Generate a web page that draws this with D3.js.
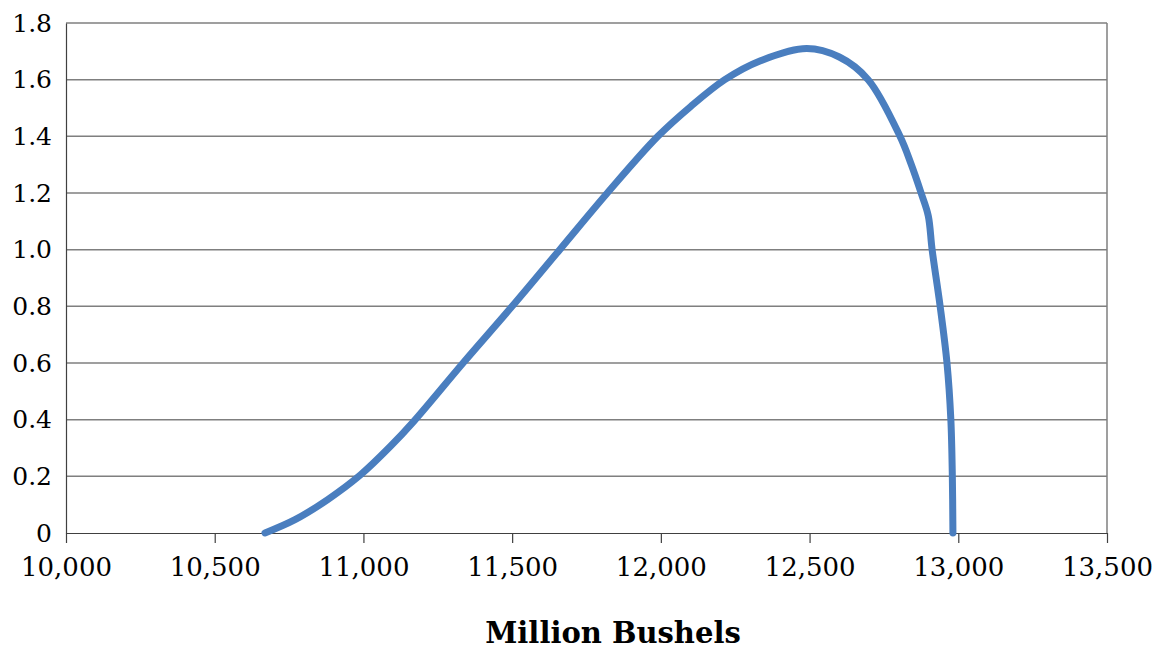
<!DOCTYPE html>
<html>
<head>
<meta charset="utf-8">
<script src="https://cdn.jsdelivr.net/npm/d3@7"></script>
<style>
  html, body { margin: 0; padding: 0; background: #fff; }
  svg { display: block; }
</style>
</head>
<body>
<svg id="chart" width="1166" height="650"></svg>
<script>
// Data
const bushels = [10669, 10770, 10880, 10990, 11090, 11170, 11335, 11500, 11660, 11820, 11990, 12100, 12215, 12333, 12490, 12600, 12697, 12804, 12841, 12875, 12899, 12912, 12939, 12962, 12975, 12980, 12982];
const values  = [0,     0.047, 0.118, 0.205, 0.305, 0.395, 0.6,   0.8,   1.0,   1.2,   1.4,   1.505, 1.6,   1.666, 1.71,  1.68,  1.6,   1.4,   1.303, 1.2,   1.12,  1.0,   0.8,   0.6,   0.4,   0.2,   0];
const xTicks = [10000, 10500, 11000, 11500, 12000, 12500, 13000, 13500];
const yTicks = [0, 0.2, 0.4, 0.6, 0.8, 1.0, 1.2, 1.4, 1.6, 1.8];
const yTickLabels = ["0", "0.2", "0.4", "0.6", "0.8", "1.0", "1.2", "1.4", "1.6", "1.8"];
const xTitle = "Million Bushels";

const svg = d3.select("#chart");
const mLeft = 66, mRight = 1107, mTop = 23, mBottom = 533;

const x = d3.scaleLinear().domain([10000, 13500]).range([mLeft, mRight]);
const y = d3.scaleLinear().domain([0, 1.8]).range([mBottom, mTop]);

const font = "'DejaVu Serif', Georgia, serif";

// Gridlines
svg.append("g")
  .selectAll("line")
  .data(yTicks.filter(d => d > 0))
  .join("line")
  .attr("x1", mLeft).attr("x2", mRight)
  .attr("y1", d => y(d)).attr("y2", d => y(d))
  .attr("stroke", "#7f7f7f").attr("stroke-width", 1.5);

// Right border
svg.append("line")
  .attr("x1", mRight).attr("x2", mRight)
  .attr("y1", mTop).attr("y2", mBottom)
  .attr("stroke", "#7f7f7f").attr("stroke-width", 1.5);

// X axis
const xAxis = svg.append("g")
  .attr("transform", `translate(0,${mBottom})`)
  .call(d3.axisBottom(x).tickValues(xTicks).tickFormat(d3.format(",")).tickSize(10).tickPadding(15).tickSizeOuter(0));
xAxis.select(".domain").attr("stroke", "#404040").attr("stroke-width", 1.2);
xAxis.selectAll(".tick line").attr("stroke", "#404040").attr("stroke-width", 1.2);
xAxis.selectAll("text").attr("font-family", font).attr("font-size", 26).attr("fill", "#000");

// Y axis
const yAxis = svg.append("g")
  .attr("transform", `translate(${mLeft},0)`)
  .call(d3.axisLeft(y).tickValues(yTicks).tickFormat((d, i) => yTickLabels[i]).tickSize(0).tickPadding(14).tickSizeOuter(0));
yAxis.select(".domain").attr("stroke", "#404040").attr("stroke-width", 1.2);
yAxis.selectAll("text").attr("font-family", font).attr("font-size", 25).attr("fill", "#000");

// Curve
const pts = bushels.map((b, i) => [b, values[i]]);
svg.append("path")
  .datum(pts)
  .attr("fill", "none")
  .attr("stroke", "#4a7ebf")
  .attr("stroke-width", 7)
  .attr("stroke-linecap", "round")
  .attr("stroke-linejoin", "round")
  .attr("d", d3.line().x(d => x(d[0])).y(d => y(d[1])).curve(d3.curveCatmullRom.alpha(0.5)));

// X title
svg.append("text")
  .attr("x", 613)
  .attr("y", 643)
  .attr("text-anchor", "middle")
  .attr("font-family", font)
  .attr("font-weight", "bold")
  .attr("font-size", 29)
  .attr("fill", "#000")
  .text(xTitle);
</script>
</body>
</html>
